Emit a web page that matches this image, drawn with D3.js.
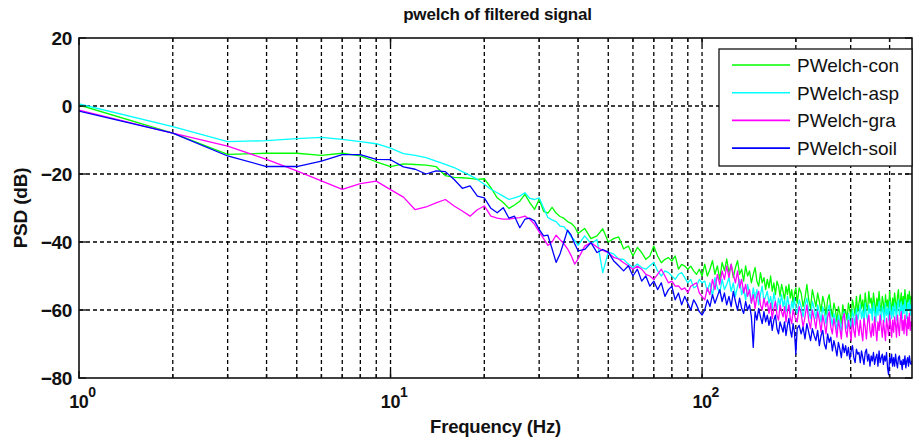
<!DOCTYPE html>
<html><head><meta charset="utf-8">
<script src="https://cdn.jsdelivr.net/npm/d3@7"></script>
<style>
body{margin:0;background:#fff;}
svg{display:block;font-family:"Liberation Sans",Arial,Helvetica,sans-serif;}
</style>
</head><body><svg id="c" width="913" height="443"></svg>
<script>
// ---------------- data ----------------
const chartTitle = "pwelch of filtered signal";
const xLabel = "Frequency (Hz)";
const yLabel = "PSD (dB)";
const seriesNames = ["PWelch-con", "PWelch-asp", "PWelch-gra", "PWelch-soil"];
const seriesColors = ["#00ff00", "#00ffff", "#ff00ff", "#0000ff"];
const yTicks = [20, 0, -20, -40, -60, -80];
const xDecades = [1, 10, 100];
const xDecadeExp = ["0", "1", "2"];
const xMinor = [2,3,4,5,6,7,8,9,20,30,40,50,60,70,80,90,200,300,400];
const xMax = 472;

// frequency grid (Hz): 1..40 step 1, 42..100 step 2, 102..200 step 2, 202..472 step 3
const freqs = [].concat(d3.range(1, 41), d3.range(42, 101, 2), d3.range(102, 201, 2), d3.range(202, 473, 3));

const psdCon = [
  0.3, -8.0, -14.2, -13.9, -13.9, -14.5, -13.9, -14.7, -16.4, -17.8,
  -17.0, -17.2, -17.4, -17.8, -20.5, -21.0, -21.1, -21.3, -21.6, -21.4,
  -24.0, -27.0, -28.4, -30.1, -29.1, -28.0, -26.0, -28.4, -30.4, -27.4,
  -31.0, -31.5, -29.8, -31.5, -32.5, -33.0, -34.0, -34.5, -35.5, -37.5,
  -36.0, -39.0, -38.2, -36.1, -40.0, -39.0, -38.5, -42.0, -41.2, -44.1,
  -41.6, -43.1, -45.1, -44.1, -41.2, -44.1, -46.1, -45.1, -44.6, -45.6,
  -44.1, -48.0, -46.6, -47.1, -48.0, -47.1, -48.5, -49.5, -48.0, -50.0,
  -46.5, -50, -48, -45.5, -49.5, -47, -51, -46, -48.5, -45,
  -49, -46.5, -50.5, -47.5, -45.5, -49.5, -48, -51.5, -47, -50,
  -48.5, -52, -49.5, -47.5, -51.5, -53, -49, -52, -50.5, -54,
  -51, -53.5, -50, -54.5, -52, -55.5, -51.5, -53, -56, -52.5,
  -54.5, -57, -53, -55.5, -52.5, -56.5, -54, -58, -55, -53.5,
  -58, -53.5, -55, -59, -56.5, -52.5, -57, -59.5, -54, -56.5,
  -59, -55, -57.5, -60.5, -56, -58, -61.5, -57, -55.5, -59.5,
  -62, -58, -60, -63.5, -59, -61, -64, -58.5, -61.5, -60,
  -63, -58, -60, -62.5, -57, -59, -61.5, -56, -60.5, -58,
  -55.5, -59.5, -57, -61, -55, -58.5, -60, -54.5, -58, -56.5,
  -60.5, -55, -58, -61, -56.5, -59, -54.5, -58.5, -60.5, -56,
  -58, -61.5, -55.5, -59, -57, -60.5, -54.5, -58, -61, -56.5,
  -59, -55, -57.5, -60.5, -56, -54, -59, -57.5, -55, -60,
  -56, -58.5, -54, -57, -60, -55.5, -57.5, -54.5, -59, -56, -57
];
const psdAsp = [
  0.6, -6.1, -10.5, -10.2, -9.6, -9.2, -9.8, -10.5, -11.1, -12.4,
  -14.0, -14.5, -15.2, -16.2, -17.2, -18.1, -19.3, -20.4, -21.6, -23.0,
  -24.5, -25.5, -26.5, -27.5, -27.0, -26.5, -25.5, -27.2, -27.5, -27.0,
  -30.0, -32.8, -33.5, -34.0, -35.3, -35.5, -36.8, -38.5, -39.5, -41.0,
  -38.2, -40.5, -39.3, -49.0, -43.0, -43.5, -45.0, -45.1, -46.5, -47.5,
  -46.5, -47.5, -48.0, -47.0, -46.0, -48.5, -50.0, -48.5, -49.0, -50.0,
  -51.0, -49.5, -49.0, -50.5, -52.0, -51.0, -53.5, -53.0, -51.0, -52.0,
  -51.5, -54.5, -52, -56, -50.5, -53.5, -55, -51, -54, -52.5,
  -50.5, -54.5, -52, -56, -53, -51, -55.5, -53.5, -57, -52.5,
  -55, -58, -53.5, -56.5, -54, -58.5, -55.5, -53, -57.5, -56,
  -54.5, -58, -56, -59.5, -55, -57.5, -60, -56.5, -58.5, -55.5,
  -59, -57, -60.5, -56, -58.5, -61, -57.5, -59.5, -56.5, -60,
  -61, -57, -59, -62, -58.5, -56.5, -60.5, -62.5, -57.5, -59.5,
  -62.5, -58.5, -60.5, -63.5, -59, -61, -64, -60, -58.5, -62,
  -64.5, -61, -63, -66, -61.5, -63.5, -66.5, -62, -60.5, -64.5,
  -65.5, -61, -63, -65, -60, -62, -64.5, -59.5, -63, -61,
  -58.5, -62.5, -60, -64, -58, -61.5, -63, -58.5, -61, -59.5,
  -63, -58, -60.5, -63.5, -59, -61.5, -57.5, -61, -63, -59,
  -60.5, -63.5, -58, -61.5, -59.5, -63, -57.5, -60.5, -62.5, -59,
  -62, -58, -60, -63, -58.5, -57, -61.5, -60, -57.5, -62.5,
  -58.5, -61, -57, -60, -62.5, -58, -60, -57, -61.5, -58.5, -60
];
const psdGra = [
  -1.2, -8.0, -11.8, -15.7, -19.1, -22.0, -24.5, -22.8, -22.1, -24.6,
  -26.8, -30.5, -29.7, -28.5, -27.5, -29.4, -30.9, -32.4, -30.5, -29.4,
  -32.4, -33.0, -33.3, -33.3, -33.0, -32.8, -32.4, -33.3, -34.8, -37.0,
  -39.0, -41.0, -40.0, -38.0, -39.3, -40.5, -42.0, -44.0, -46.5, -45.0,
  -41.2, -40.2, -41.5, -42.5, -43.1, -44.5, -45.0, -46.1, -47.0, -48.0,
  -47.1, -48.0, -49.5, -50.0, -51.0, -49.5, -48.0, -50.0, -52.0, -51.5,
  -53.0, -52.9, -54.0, -53.5, -54.9, -53.0, -52.5, -52.0, -55.0, -56.0,
  -57, -53.5, -55.5, -51, -54, -49.5, -52.5, -48.5, -51, -47,
  -50.5, -46.5, -49.5, -52, -48.5, -53.5, -51, -55, -52.5, -56,
  -54, -58, -55.5, -59.5, -56, -54.5, -58.5, -60, -56.5, -59,
  -57.5, -61, -58, -62.5, -59.5, -57.5, -61.5, -63, -58.5, -60.5,
  -62, -59, -63.5, -60.5, -58.5, -62.5, -64, -60, -61.5, -63,
  -63.5, -59, -61, -65, -62, -58.5, -63, -65.5, -60, -62.5,
  -65.5, -60.5, -63, -66.5, -61.5, -64, -67, -62, -60.5, -65,
  -67, -62.5, -65, -68, -63, -65.5, -68.5, -62.5, -61, -66,
  -68, -63, -65.5, -69, -62.5, -66, -68, -61.5, -65, -67.5,
  -63, -66.5, -69, -62.5, -65, -68.5, -63.5, -61.5, -66, -68,
  -64, -67.5, -62, -65.5, -69, -63.5, -66, -61.5, -65, -68,
  -63, -66, -69, -62.5, -65, -67.5, -61.5, -64.5, -68, -63,
  -66.5, -62, -64.5, -68, -61.5, -65, -67.5, -62.5, -60.5, -66,
  -63, -67, -61.5, -64.5, -67.5, -62, -65.5, -61, -66, -63.5, -65
];
const psdSoil = [
  -1.5, -8.0, -14.7, -17.8, -17.8, -16.2, -14.3, -14.3, -15.7, -15.8,
  -17.9, -18.6, -20.0, -19.1, -19.3, -21.6, -24.2, -23.5, -26.5, -27.0,
  -30.1, -31.4, -29.9, -33.0, -32.4, -35.8, -33.3, -33.0, -33.8, -36.3,
  -38.2, -38.0, -42.0, -46.0, -43.5, -40.0, -36.5, -38.0, -40.5, -42.6,
  -42.2, -40.2, -43.1, -42.2, -43.0, -45.5, -47.0, -48.5, -47.0, -50.0,
  -48.0, -51.5, -50.0, -53.0, -51.5, -54.0, -52.0, -56.0, -54.0, -53.0,
  -57.0, -55.0, -58.5, -56.0, -58.0, -60.0, -57.0, -58.5, -60.5, -61.5,
  -60, -57, -59, -55.5, -58, -56, -54, -57.5, -55, -58.5,
  -56, -59, -54.5, -57.5, -60, -56.5, -59.5, -61, -57.5, -60,
  -58.5, -62, -71, -60.5, -63, -59.5, -62, -64, -60.5, -63.5,
  -61.5, -64.5, -62, -66, -63, -61.5, -65.5, -67, -63.5, -65,
  -66.5, -63.5, -67.5, -64.5, -62.5, -66, -68, -64, -66.5, -73,
  -65.5, -64.5, -67, -65, -68.5, -64, -66.5, -69, -65.5, -67.5,
  -69, -66, -70.5, -67.5, -66, -70, -71.5, -67, -69.5, -68,
  -72, -69, -71, -73.5, -69.5, -71.5, -74, -70, -72.5, -70.5,
  -73.5, -71, -74.5, -72, -70.5, -74, -75.5, -71.5, -73, -72.5,
  -75.5, -72, -74, -76, -72.5, -71.5, -75, -73, -76.5, -73.5,
  -75, -72.5, -76, -74, -73, -76.5, -72, -75.5, -74, -73,
  -76, -73.5, -75, -72.5, -77, -79, -74, -75.5, -73, -76.5,
  -74, -76.5, -73, -75.5, -77, -74, -73.5, -76, -75, -77.5,
  -74.5, -76, -73.5, -77, -75, -74, -76.5, -73.5, -75.5, -76, -75
];
const seriesValues = [psdCon, psdAsp, psdGra, psdSoil];

// ---------------- layout ----------------
const svg = d3.select("#c");
const L = 79, R = 912, T = 38, B = 378;
const x = d3.scaleLog().domain([1, xMax]).range([L, R]);
const y = d3.scaleLinear().domain([-80, 20]).range([B, T]);

svg.append("defs").append("clipPath").attr("id", "clip")
  .append("rect").attr("x", L).attr("y", T).attr("width", R - L).attr("height", B - T);

// grid
const grid = svg.append("g").attr("stroke", "#000").attr("stroke-width", 1.3)
  .attr("stroke-dasharray", "4,3").attr("fill", "none");
[...xMinor, 10, 100].forEach(v => {
  grid.append("line").attr("x1", x(v)).attr("x2", x(v)).attr("y1", T).attr("y2", B);
});
yTicks.filter(v => v > -80 && v < 20).forEach(v => {
  grid.append("line").attr("x1", L).attr("x2", R).attr("y1", y(v)).attr("y2", y(v));
});

// series
const line = d3.line().x(d => x(d[0])).y(d => y(d[1]));
const gLines = svg.append("g").attr("clip-path", "url(#clip)");
seriesValues.forEach((vals, i) => {
  const n = Math.min(vals.length, freqs.length);
  const pts = d3.range(n).map(k => [freqs[k], vals[k]]);
  gLines.append("path").datum(pts).attr("d", line)
    .attr("fill", "none").attr("stroke", seriesColors[i]).attr("stroke-width", 1.3)
    .attr("stroke-linejoin", "round");
});

// box
svg.append("rect").attr("x", L).attr("y", T).attr("width", R - L).attr("height", B - T)
  .attr("fill", "none").attr("stroke", "#111").attr("stroke-width", 1.6);

// inward ticks
const ticks = svg.append("g").attr("stroke", "#111").attr("stroke-width", 1.4);
xDecades.forEach(v => {
  ticks.append("line").attr("x1", x(v)).attr("x2", x(v)).attr("y1", B).attr("y2", B - 7);
  ticks.append("line").attr("x1", x(v)).attr("x2", x(v)).attr("y1", T).attr("y2", T + 7);
});
xMinor.forEach(v => {
  ticks.append("line").attr("x1", x(v)).attr("x2", x(v)).attr("y1", B).attr("y2", B - 4);
  ticks.append("line").attr("x1", x(v)).attr("x2", x(v)).attr("y1", T).attr("y2", T + 4);
});
yTicks.forEach(v => {
  ticks.append("line").attr("x1", L).attr("x2", L + 7).attr("y1", y(v)).attr("y2", y(v));
  ticks.append("line").attr("x1", R).attr("x2", R - 7).attr("y1", y(v)).attr("y2", y(v));
});

// y axis labels via d3 axis
const yAxis = d3.axisLeft(y).tickValues(yTicks).tickSize(0).tickPadding(7).tickFormat(d3.format("d"));
const gy = svg.append("g").attr("transform", `translate(${L},0)`).call(yAxis);
gy.select(".domain").remove();
gy.selectAll("text").attr("font-size", 19).attr("font-weight", "bold").attr("fill", "#111")
  .attr("font-family", "'Liberation Sans', Arial, sans-serif").attr("letter-spacing", -0.3);

// x axis decade labels via d3 axis
const xAxis = d3.axisBottom(x).tickValues(xDecades).tickSize(0).tickFormat(() => "");
const gx = svg.append("g").attr("transform", `translate(0,${B})`).call(xAxis);
gx.select(".domain").remove();
gx.selectAll(".tick").each(function(d, i) {
  const t = d3.select(this).select("text").attr("y", 0).attr("dy", 0)
    .attr("font-size", 18).attr("font-weight", "bold").attr("fill", "#111")
    .attr("font-family", "'Liberation Sans', Arial, sans-serif")
    .attr("text-anchor", "middle").attr("letter-spacing", -0.5)
    .attr("transform", "translate(3,30)");
  t.text(null);
  t.append("tspan").text("10");
  t.append("tspan").attr("dy", -11).attr("font-size", 14).text(xDecadeExp[i]);
});

// title & axis titles
svg.append("text").attr("x", (L + R) / 2 + 2).attr("y", 20).attr("text-anchor", "middle")
  .attr("font-size", 17).attr("font-weight", "bold").attr("fill", "#111")
  .attr("letter-spacing", -0.2).text(chartTitle);
svg.append("text").attr("x", (L + R) / 2).attr("y", 433).attr("text-anchor", "middle")
  .attr("font-size", 18.5).attr("font-weight", "bold").attr("fill", "#111")
  .attr("letter-spacing", -0.2).text(xLabel);
svg.append("text").attr("transform", `translate(27,${(T + B) / 2}) rotate(-90)`)
  .attr("text-anchor", "middle").attr("font-size", 19).attr("font-weight", "bold")
  .attr("fill", "#111").attr("letter-spacing", -0.2).text(yLabel);

// legend
const lg = svg.append("g");
lg.append("rect").attr("x", 719).attr("y", 49).attr("width", 193).attr("height", 117)
  .attr("fill", "#fff").attr("stroke", "#111").attr("stroke-width", 1.3);
seriesNames.forEach((name, i) => {
  const cy = 65 + i * 27.7;
  lg.append("line").attr("x1", 732).attr("x2", 790).attr("y1", cy).attr("y2", cy)
    .attr("stroke", seriesColors[i]).attr("stroke-width", 1.6);
  lg.append("text").attr("x", 797).attr("y", cy + 7).attr("font-size", 19)
    .attr("fill", "#111").text(name);
});
</script>
</body></html>
